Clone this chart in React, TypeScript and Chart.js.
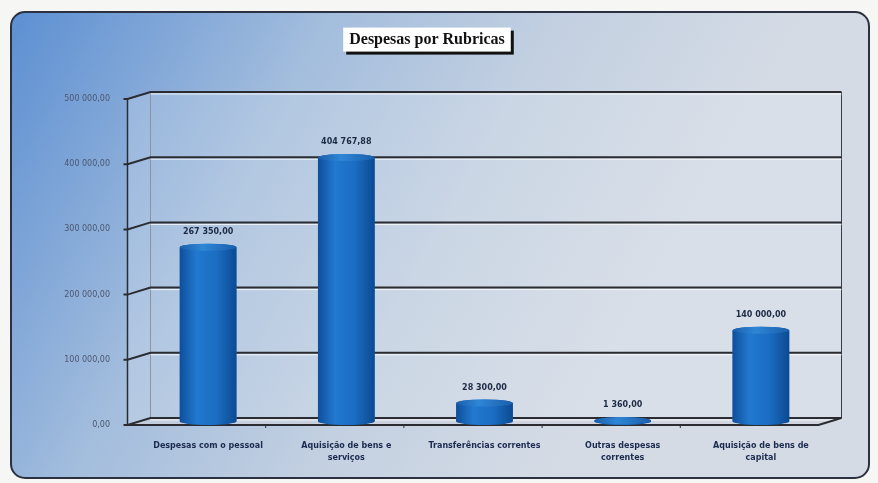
import { useEffect, useRef } from 'react';
import { Chart, registerables } from 'chart.js';

Chart.register(...registerables);

const chartTitle = 'Despesas por Rubricas';
const categories: string[][] = [
  ['Despesas com o pessoal'],
  ['Aquisição de bens e', 'serviços'],
  ['Transferências correntes'],
  ['Outras despesas', 'correntes'],
  ['Aquisição de bens de', 'capital'],
];
const values: number[] = [267350, 404767.88, 28300, 1360, 140000];
const yTicks: number[] = [0, 100000, 200000, 300000, 400000, 500000];

const DX = 11.5;
const DY = 3.5;

function fmt(v: number): string {
  const [i, d] = v.toFixed(2).split('.');
  return i.replace(/\B(?=(\d{3})+(?!\d))/g, ' ') + ',' + d;
}

const decor = {
  id: 'decor3d',
  beforeDraw(chart: any) {
    const ctx: CanvasRenderingContext2D = chart.ctx;
    const W = chart.width, H = chart.height;
    ctx.save();
    ctx.fillStyle = '#f6f6f4';
    ctx.fillRect(0, 0, W, H);
    const px = 11, py = 12, pw = 858, ph = 466, rad = 14;
    const g = ctx.createLinearGradient(10, 12, 620, 350);
    g.addColorStop(0, '#5c8fd2');
    g.addColorStop(0.4, '#a3bddd');
    g.addColorStop(0.7, '#c3d0e1');
    g.addColorStop(1, '#d4dbe5');
    ctx.beginPath();
    ctx.roundRect(px, py, pw, ph, rad);
    ctx.fillStyle = g;
    ctx.fill();
    ctx.lineWidth = 2;
    ctx.strokeStyle = '#2b3140';
    ctx.stroke();
    const tb = chart.titleBlock;
    if (tb) {
      const font = tb.options.font;
      ctx.font = `bold ${font.size}px "${font.family}"`;
      const tw = ctx.measureText(chartTitle).width;
      const cx = (tb.left + tb.right) / 2;
      const cy = tb.top + 30 + 9.6;
      const bw = tw + 12, bh = 24;
      ctx.fillStyle = '#111111';
      ctx.fillRect(cx - bw / 2 + 3, cy - bh / 2 + 3, bw, bh);
      ctx.fillStyle = '#ffffff';
      ctx.fillRect(cx - bw / 2, cy - bh / 2, bw, bh);
    }
    ctx.restore();
  },
  beforeDatasetsDraw(chart: any) {
    const ctx: CanvasRenderingContext2D = chart.ctx;
    const ys = chart.scales.y, xs = chart.scales.x;
    const ca = chart.chartArea;
    const max = yTicks[yTicks.length - 1];
    const fy = (v: number) => ys.getPixelForValue(v) + DY;
    const by = (v: number) => ys.getPixelForValue(v) - DY;
    const FL = ca.left - DX, BL = ca.left + DX, FR = ca.right - DX, BR = ca.right + DX;
    ctx.save();
    ctx.fillStyle = 'rgba(236,241,247,0.2)';
    ctx.fillRect(BL, by(max), BR - BL, by(0) - by(max));
    ctx.beginPath();
    ctx.moveTo(FL, fy(max)); ctx.lineTo(BL, by(max)); ctx.lineTo(BL, by(0)); ctx.lineTo(FL, fy(0));
    ctx.closePath();
    ctx.fillStyle = 'rgba(225,232,242,0.25)';
    ctx.fill();
    ctx.beginPath();
    ctx.moveTo(FL, fy(0)); ctx.lineTo(BL, by(0)); ctx.lineTo(BR, by(0)); ctx.lineTo(FR, fy(0));
    ctx.closePath();
    ctx.fillStyle = 'rgba(205,210,220,0.7)';
    ctx.fill();
    ctx.lineWidth = 1;
    ctx.strokeStyle = '#8d929c';
    ctx.beginPath(); ctx.moveTo(BL, by(max)); ctx.lineTo(BL, by(0)); ctx.stroke();
    ctx.strokeStyle = '#3a3d44';
    ctx.beginPath(); ctx.moveTo(BR, by(max)); ctx.lineTo(BR, by(0)); ctx.stroke();
    yTicks.forEach((t) => {
      ctx.strokeStyle = 'rgba(255,255,255,0.8)';
      ctx.lineWidth = 1;
      ctx.beginPath();
      ctx.moveTo(BL, by(t) + 2);
      ctx.lineTo(BR, by(t) + 2);
      ctx.stroke();
      ctx.strokeStyle = '#2a2c31';
      ctx.lineWidth = 2;
      ctx.beginPath();
      ctx.moveTo(FL - 4, fy(t));
      ctx.lineTo(FL, fy(t));
      ctx.lineTo(BL, by(t));
      ctx.lineTo(BR, by(t));
      ctx.stroke();
    });
    ctx.strokeStyle = '#2a2c31';
    ctx.lineWidth = 1.5;
    ctx.beginPath(); ctx.moveTo(FL, fy(max)); ctx.lineTo(FL, fy(0)); ctx.stroke();
    ctx.lineWidth = 2;
    ctx.beginPath(); ctx.moveTo(FL, fy(0)); ctx.lineTo(FR, fy(0)); ctx.lineTo(BR, by(0)); ctx.stroke();
    ctx.lineWidth = 1;
    for (let i = 0; i < categories.length - 1; i++) {
      const bx = (xs.getPixelForTick(i) + xs.getPixelForTick(i + 1)) / 2 - DX;
      ctx.beginPath(); ctx.moveTo(bx, fy(0)); ctx.lineTo(bx, fy(0) + 3); ctx.stroke();
    }
    ctx.restore();
  },
  afterDatasetsDraw(chart: any) {
    const ctx: CanvasRenderingContext2D = chart.ctx;
    const meta = chart.getDatasetMeta(0);
    ctx.save();
    meta.data.forEach((bar: any, i: number) => {
      const { x: cx, y: top, base, width } = bar.getProps(['x', 'y', 'base', 'width'], true);
      const l = cx - width / 2, r = cx + width / 2, ry = 3.5;
      const g = ctx.createLinearGradient(l, 0, r, 0);
      g.addColorStop(0, '#0e4f9c');
      g.addColorStop(0.3, '#2279cf');
      g.addColorStop(0.65, '#1a6dc2');
      g.addColorStop(1, '#0c4a92');
      ctx.fillStyle = g;
      ctx.beginPath();
      ctx.moveTo(l, top);
      ctx.lineTo(l, base);
      ctx.ellipse(cx, base, width / 2, ry, 0, Math.PI, 0, true);
      ctx.lineTo(r, top);
      ctx.ellipse(cx, top, width / 2, ry, 0, 0, Math.PI, true);
      ctx.closePath();
      ctx.fill();
      const g2 = ctx.createLinearGradient(l, 0, r, 0);
      g2.addColorStop(0, '#1a5fad');
      g2.addColorStop(0.4, '#2f86d6');
      g2.addColorStop(1, '#1a5fad');
      ctx.fillStyle = g2;
      ctx.beginPath();
      ctx.ellipse(cx, top, width / 2, ry, 0, 0, Math.PI * 2);
      ctx.fill();
      ctx.font = 'bold 8px "DejaVu Sans"';
      ctx.fillStyle = '#1d2a44';
      ctx.textAlign = 'center';
      ctx.textBaseline = 'middle';
      ctx.fillText(fmt(values[i]), cx, top - ry - 12);
    });
    ctx.restore();
  },
};

export default function App() {
  const ref = useRef<HTMLCanvasElement | null>(null);
  useEffect(() => {
    document.body.style.margin = '0';
    const canvas = ref.current!;
    const chart = new Chart(canvas, {
      type: 'bar',
      data: {
        labels: categories,
        datasets: [
          {
            data: values,
            backgroundColor: '#1c70c4',
            borderWidth: 0,
            categoryPercentage: 1,
            barPercentage: 0.41,
          },
        ],
      },
      options: {
        animation: false,
        responsive: false,
        layout: { padding: { left: 24, right: 48, top: 0, bottom: 0 } },
        plugins: {
          legend: { display: false },
          tooltip: { enabled: false },
          title: {
            display: true,
            text: chartTitle,
            color: '#111111',
            font: { family: 'Liberation Serif', size: 16, weight: 'bold', lineHeight: 1.2 },
            padding: { top: 30, bottom: 46.3 },
          },
        },
        scales: {
          x: {
            grid: { display: false },
            border: { display: false },
            ticks: {
              color: '#1b2a4e',
              font: { family: 'DejaVu Sans', size: 8, weight: 'bold', lineHeight: 1.45 },
              padding: 11,
              maxRotation: 0,
              autoSkip: false,
            },
            afterFit: (s: any) => { s.height = 61.5; },
          },
          y: {
            min: 0,
            max: 500000,
            grid: { display: false },
            border: { display: false },
            afterBuildTicks: (s: any) => { s.ticks = yTicks.map((v) => ({ value: v })); },
            ticks: {
              color: '#4d5670',
              font: { family: 'DejaVu Sans', size: 8 },
              padding: 21,
              labelOffset: DY,
              callback: (v: any) => fmt(Number(v)),
            },
            afterFit: (s: any) => { s.width = 115; },
          },
        },
      },
      plugins: [decor],
    });
    return () => chart.destroy();
  }, []);
  return (
    <div style={{ position: 'absolute', left: 0, top: 0, width: 878, height: 483 }}>
      <canvas ref={ref} width={878} height={483} style={{ display: 'block' }} />
    </div>
  );
}
